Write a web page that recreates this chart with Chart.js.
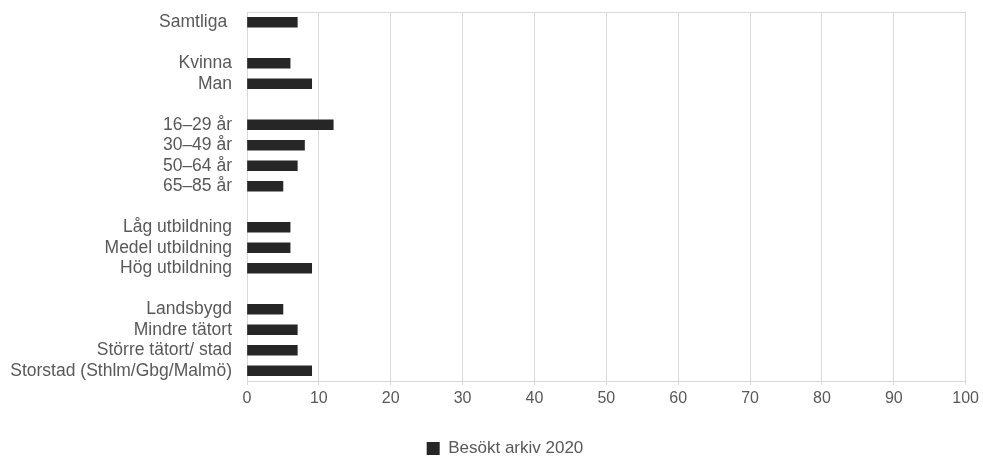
<!DOCTYPE html>
<html>
<head>
<meta charset="utf-8">
<script src="https://cdn.jsdelivr.net/npm/chart.js@4"></script>
<style>
  html, body { margin: 0; padding: 0; background: #fff; }
  #wrap { width: 983px; height: 460px; }
</style>
</head>
<body>
<div id="wrap"><canvas id="arkivChart"></canvas></div>
<script>
// -------- DATA --------
const kategorier = [
    "Samtliga ", "",
    "Kvinna", "Man", "",
    "16–29 år", "30–49 år", "50–64 år", "65–85 år", "",
    "Låg utbildning", "Medel utbildning", "Hög utbildning", "",
    "Landsbygd", "Mindre tätort", "Större tätort/ stad", "Storstad (Sthlm/Gbg/Malmö)"
];
const besoktArkiv = [
    7, null,
    6, 9, null,
    12, 8, 7, 5, null,
    6, 6, 9, null,
    5, 7, 7, 9
];
const serieNamn = "Besökt arkiv 2020";
const xTicks = [0, 10, 20, 30, 40, 50, 60, 70, 80, 90, 100];

// -------- STIL --------
const textFarg = "#595959";
const gridFarg = "#d9d9d9";
Chart.defaults.font.family = "'Liberation Sans', Arial, sans-serif";
Chart.defaults.color = textFarg;

// linje överst i ritytan + flytta legenden lite åt höger/ned
const ram = {
    id: "ram",
    afterLayout(chart) {
        chart.legend.left += 22;
        chart.legend.right += 22;
        chart.legend.top += 7;
        chart.legend.bottom += 7;
    },
    beforeDatasetsDraw(chart) {
        const { ctx, chartArea } = chart;
        ctx.save();
        ctx.strokeStyle = gridFarg;
        ctx.lineWidth = 1;
        ctx.beginPath();
        ctx.moveTo(chartArea.left, Math.round(chartArea.top) + 0.5);
        ctx.lineTo(chartArea.right, Math.round(chartArea.top) + 0.5);
        ctx.stroke();
        ctx.restore();
    }
};

// -------- CHART --------
new Chart(document.getElementById("arkivChart"), {
    type: "bar",
    data: {
        labels: kategorier,
        datasets: [{
            label: serieNamn,
            data: besoktArkiv,
            backgroundColor: "#262626",
            borderWidth: 0,
            barThickness: 10
        }]
    },
    options: {
        indexAxis: "y",
        responsive: true,
        maintainAspectRatio: false,
        animation: false,
        layout: { autoPadding: false, padding: { top: 12, right: 17, left: 0, bottom: 0 } },
        scales: {
            x: {
                type: "linear",
                position: "bottom",
                min: 0,
                max: 100,
                afterBuildTicks: s => { s.ticks = xTicks.map(v => ({ value: v })); },
                afterFit: s => { s.height = 52; },
                grid: { color: gridFarg, tickLength: 4, lineWidth: 1 },
                border: { color: gridFarg },
                ticks: { font: { size: 16 }, color: textFarg, padding: 4 }
            },
            y: {
                afterFit: s => {
                    s.width = 247;
                    s.paddingTop = 0;
                    s.paddingBottom = 0;
                },
                grid: { display: false, drawTicks: false },
                border: { display: false },
                ticks: { font: { size: 17.5 }, color: textFarg, padding: 15, autoSkip: false }
            }
        },
        plugins: {
            legend: {
                position: "bottom",
                labels: {
                    boxWidth: 13,
                    boxHeight: 13,
                    padding: 0,
                    font: { size: 17 },
                    color: textFarg
                }
            },
            tooltip: { enabled: false }
        }
    },
    plugins: [ram]
});
</script>
</body>
</html>
